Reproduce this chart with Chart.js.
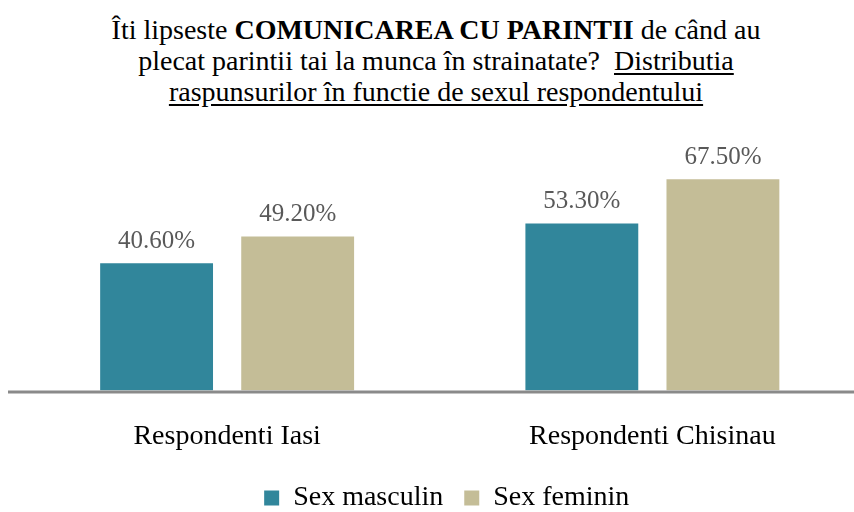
<!DOCTYPE html>
<html>
<head>
<meta charset="utf-8">
<script src="https://cdn.jsdelivr.net/npm/chart.js@4/dist/chart.umd.min.js"></script>
<style>
  body { margin: 0; background: #fff; overflow: hidden; width: 854px; height: 512px; }
  #title {
    position: absolute; left: 9px; top: 14px; width: 854px;
    font-family: "Liberation Serif", "Times New Roman", serif;
    font-size: 28px; line-height: 31px; text-align: center; color: #000;
  }
  #title u { text-underline-offset: 3px; }
  #wrap { position: absolute; left: 0; top: 0; width: 865px; height: 522px; }
</style>
</head>
<body>
<div id="title">Îti lipseste <b>COMUNICAREA CU PARINTII</b> de când au<br>plecat parintii tai la munca în strainatate?&nbsp; <u>Distributia</u><br><u>raspunsurilor în functie de sexul respondentului</u></div>
<div id="wrap"><canvas id="myChart"></canvas></div>
<script>
const categories = ['Respondenti Iasi', 'Respondenti Chisinau'];
const seriesNames = ['Sex masculin', 'Sex feminin'];
const masculin = [40.6, 53.3];
const feminin = [49.2, 67.5];

const serif = '"Liberation Serif", "Times New Roman", serif';

const valueLabels = {
  id: 'valueLabels',
  afterDatasetsDraw(chart) {
    const ctx = chart.ctx;
    ctx.save();
    ctx.font = '25px ' + serif;
    ctx.fillStyle = '#595959';
    ctx.textAlign = 'center';
    ctx.textBaseline = 'alphabetic';
    chart.data.datasets.forEach((ds, i) => {
      chart.getDatasetMeta(i).data.forEach((bar, j) => {
        ctx.fillText(ds.data[j].toFixed(2) + '%', bar.x, bar.y - 15.5);
      });
    });
    ctx.restore();
  }
};

const axisLine = {
  id: 'axisLine',
  afterDatasetsDraw(chart) {
    const ctx = chart.ctx;
    const y = chart.scales.y.getPixelForValue(0) + 1.5;
    ctx.save();
    ctx.strokeStyle = '#8a8a8a';
    ctx.lineWidth = 3;
    ctx.beginPath();
    ctx.moveTo(8, y);
    ctx.lineTo(chart.width, y);
    ctx.stroke();
    ctx.restore();
  }
};

// nudge the legend a bit to the right, like in the original
const legendShift = {
  id: 'legendShift',
  afterLayout(chart) {
    chart.legend.left += 7;
    chart.legend.right += 7;
  }
};

let ctx = document.getElementById('myChart').getContext('2d');
let chart = new Chart(ctx, {
  type: 'bar',
  data: {
    labels: categories,
    datasets: [{
      label: seriesNames[0],
      backgroundColor: '#31869b',
      data: masculin
    }, {
      label: seriesNames[1],
      backgroundColor: '#c4bd97',
      data: feminin
    }]
  },
  options: {
    responsive: true,
    maintainAspectRatio: false,
    animation: false,
    layout: { padding: { top: 140, left: 14.5, right: 0, bottom: 0 } },
    datasets: { bar: { categoryPercentage: 0.6635, barPercentage: 0.8 } },
    scales: {
      x: {
        grid: { display: false, drawTicks: false },
        border: { display: false },
        ticks: { color: '#000', font: { family: serif, size: 28 }, padding: 29 },
        afterFit(scale) { scale.height = 72.5; }
      },
      y: {
        display: false,
        min: 0,
        max: 80
      }
    },
    plugins: {
      title: { display: false },
      tooltip: { enabled: false },
      legend: {
        position: 'bottom',
        labels: {
          color: '#000',
          font: { family: serif, size: 28 },
          boxWidth: 15,
          boxHeight: 15,
          padding: 21
        }
      }
    }
  },
  plugins: [valueLabels, axisLine, legendShift]
});
</script>
</body>
</html>
